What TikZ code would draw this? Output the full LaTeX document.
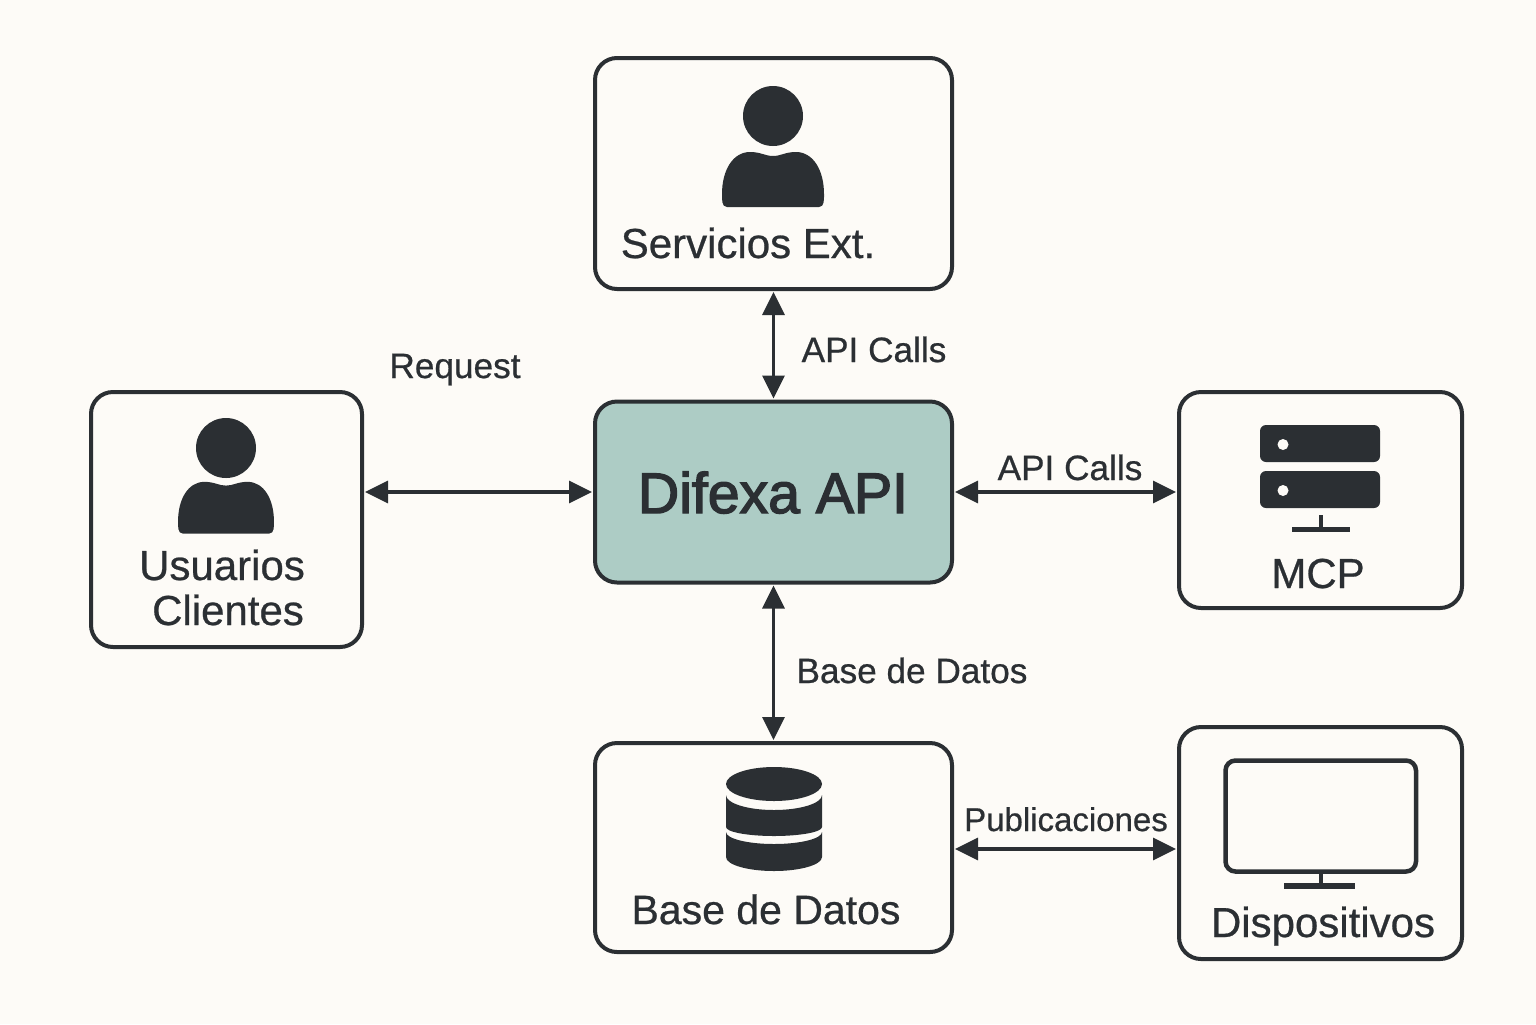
\documentclass[tikz,border=0pt]{standalone}
\usepackage{fontspec}
\setmainfont{Liberation Sans}
\newfontfamily\mediumfont[FakeBold=0.6]{Liberation Sans}
\newfontfamily\apifont[FakeBold=2.5]{Liberation Sans}
\usetikzlibrary{arrows.meta}
\definecolor{inkdark}{HTML}{2B2F33}
\definecolor{paperbg}{HTML}{FDFBF7}
\definecolor{apifill}{HTML}{ADCCC5}
\tikzset{
	compbox/.style={draw=inkdark,line width=2pt,rounded corners=11pt,fill=paperbg,inner sep=0pt},
	biarrow/.style={<->,draw=inkdark,line width=1.7pt,shorten <=0.5pt,shorten >=0.5pt},
	boxlabel/.style={anchor=base,text=inkdark,font=\mediumfont\fontsize{21}{21}\selectfont},
	linklabel/.style={anchor=base,text=inkdark,font=\mediumfont\fontsize{17.6}{17.6}\selectfont},
	icon/.style={fill=inkdark,draw=none},
	iconline/.style={draw=inkdark,line width=2.4pt}
}
\newcommand{\personicon}[3]{
	\fill[icon] (#1,#2) circle (30);
\begin{scope}[shift={(#1,#2)},scale=#3]
	\fill[icon] (-46,91) to[out=180,in=-90] (-51,78) .. controls (-51,54) and (-40,36) .. (-23,36) .. controls (-12,36) and (-8,40) .. (0,40) .. controls (8,40) and (12,36) .. (23,36) .. controls (40,36) and (51,54) .. (51,78) to[out=-90,in=0] (46,91) -- cycle;
\end{scope}
}
\begin{document}
\begin{tikzpicture}[x=0.5pt,y=-0.5pt,>={Triangle[length=11.5pt,width=11pt]}]
\path[use as bounding box,fill=paperbg] (0,0) rectangle (1536,1024);
\node[compbox,minimum width=178.5pt,minimum height=115.5pt] (servicios) at (773.5,173.5) {};
\node[compbox,minimum width=178.5pt,minimum height=90.5pt,fill=apifill] (difexa) at (773.5,492) {};
\node[compbox,minimum width=135.5pt,minimum height=127.5pt] (usuarios) at (226.5,519.5) {};
\node[compbox,minimum width=141.5pt,minimum height=108pt] (mcp) at (1320.5,500) {};
\node[compbox,minimum width=178.5pt,minimum height=104.5pt] (base) at (773.5,847.5) {};
\node[compbox,minimum width=141.5pt,minimum height=116pt] (dispositivos) at (1320.5,843) {};
\draw[biarrow] (servicios.south) -- (difexa.north);
\draw[biarrow] (difexa.south) -- (base.north);
\draw[biarrow] (difexa.west -| usuarios.east) -- (difexa.west);
\draw[biarrow] (difexa.east) -- (difexa.east -| mcp.west);
\draw[biarrow] ([yshift=-0.75pt]base.east) -- ([yshift=-0.75pt]base.east -| dispositivos.west);
\personicon{773}{116}{1}
\personicon{226}{448}{0.94}
\foreach \ytop/\ybot in {425/462,471/508}
{
	\fill[icon,rounded corners=3pt] (1260,\ytop) rectangle (1380,\ybot);
	\fill[paperbg] (1283,{(\ytop+\ybot)/2+1}) circle (5.5);
}
\draw[iconline] (1321,515) -- (1321,530);
\draw[iconline] (1292,529.5) -- (1350,529.5);
\fill[icon] (726,784) arc (180:0:48 and -17) arc (0:-180:48 and -17) -- cycle;
\fill[icon] (726,795) arc (180:0:48 and 15) -- (822,827) arc (0:180:48 and 9) -- cycle;
\fill[icon] (726,832) arc (180:0:48 and 12) -- (822,857) arc (0:180:48 and 14) -- cycle;
\draw[inkdark,line width=2.25pt,rounded corners=5pt] (1225.5,760.5) rectangle (1416,871.5);
\draw[iconline] (1321,873) -- (1321,886);
\draw[iconline,line width=2.75pt] (1284,886) -- (1355,886);
\node[boxlabel] (serviciostxt) at (748,258) {Servicios Ext.};
\node[boxlabel] (usuariostxt) at (222,580) {Usuarios};
\node[boxlabel] (clientestxt) at (228,625) {Clientes};
\node[boxlabel] (mcptxt) at (1318,588) {MCP};
\node[boxlabel,font=\mediumfont\fontsize{20.5}{20.5}\selectfont] (basetxt) at (766,924) {Base de Datos};
\node[boxlabel] (dispositivostxt) at (1323,937) {Dispositivos};
\node[boxlabel,font=\apifont\fontsize{28.6}{28.6}\selectfont] (difexatxt) at (773,513) {Difexa API};
\node[linklabel] (requesttxt) at (455,378) {Request};
\node[linklabel] (callstoptxt) at (874,362) {API Calls};
\node[linklabel] (callsrighttxt) at (1070,480) {API Calls};
\node[linklabel] (basedatostxt) at (912,683) {Base de Datos};
\node[linklabel,font=\mediumfont\fontsize{16.5}{16.5}\selectfont] (publictxt) at (1066,831) {Publicaciones};
\end{tikzpicture}
\end{document}
